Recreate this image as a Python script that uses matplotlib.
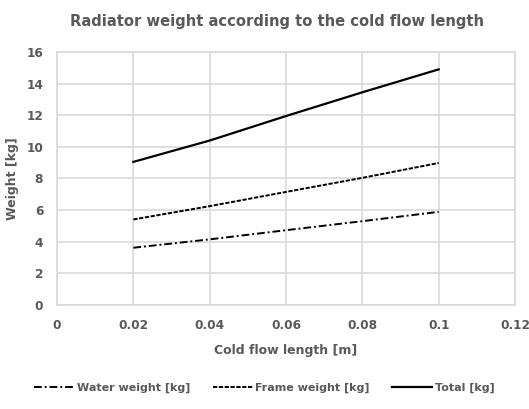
import matplotlib
matplotlib.use("Agg")
import matplotlib.pyplot as plt

# cold flow length [m] and component weights [kg]
length = [0.02, 0.04, 0.06, 0.08, 0.10]
water = [3.62, 4.15, 4.73, 5.30, 5.89]
frame = [5.41, 6.25, 7.15, 8.04, 8.98]
total = [9.05, 10.4, 11.95, 13.45, 14.9]

xticks = [0, 0.02, 0.04, 0.06, 0.08, 0.1, 0.12]
xticklabels = ["0", "0.02", "0.04", "0.06", "0.08", "0.1", "0.12"]
yticks = [0, 2, 4, 6, 8, 10, 12, 14, 16]

txt = "#595959"
grid = "#d9d9d9"

plt.rcParams["font.family"] = ["DejaVu Sans"]
plt.rcParams["font.weight"] = "bold"

fig = plt.figure(figsize=(5.29, 4.09), dpi=100)
ax = fig.add_axes([0.1078, 0.2543, 0.8657, 0.6186])

ax.plot(length, water, color="black", lw=1.4, linestyle=(0, (4, 1.5, 1, 1.5)), label="Water weight [kg]")
ax.plot(length, frame, color="black", lw=1.4, linestyle=(0, (2.2, 0.8)), label="Frame weight [kg]")
ax.plot(length, total, color="black", lw=1.6, linestyle="-", label="Total [kg]")

ax.set_xlim(0, 0.12)
ax.set_ylim(0, 16)
ax.set_xticks(xticks)
ax.set_xticklabels(xticklabels)
ax.set_yticks(yticks)
ax.grid(True, color=grid, lw=1.2)
ax.set_axisbelow(True)
for s in ax.spines.values():
    s.set_color(grid)
    s.set_linewidth(1.2)
ax.tick_params(length=0, labelsize=8.7, labelcolor=txt, pad=10)
for lab in ax.get_xticklabels() + ax.get_yticklabels():
    lab.set_fontweight("bold")

ax.set_xlabel("Cold flow length [m]", fontsize=9, color=txt, fontweight="bold", labelpad=9)
ax.set_ylabel("Weight [kg]", fontsize=9, color=txt, fontweight="bold", labelpad=5)
fig.suptitle("Radiator weight according to the cold flow length", x=0.524, y=0.965,
             fontsize=10.6, color=txt, fontweight="bold")

leg = fig.legend(loc="center", bbox_to_anchor=(0.5, 0.052), ncol=3, frameon=False,
                 fontsize=8, handlelength=3.6, columnspacing=2.0, handletextpad=0.25)
for t in leg.get_texts():
    t.set_color(txt)
    t.set_fontweight("bold")

fig.savefig("out.png", dpi=100)
